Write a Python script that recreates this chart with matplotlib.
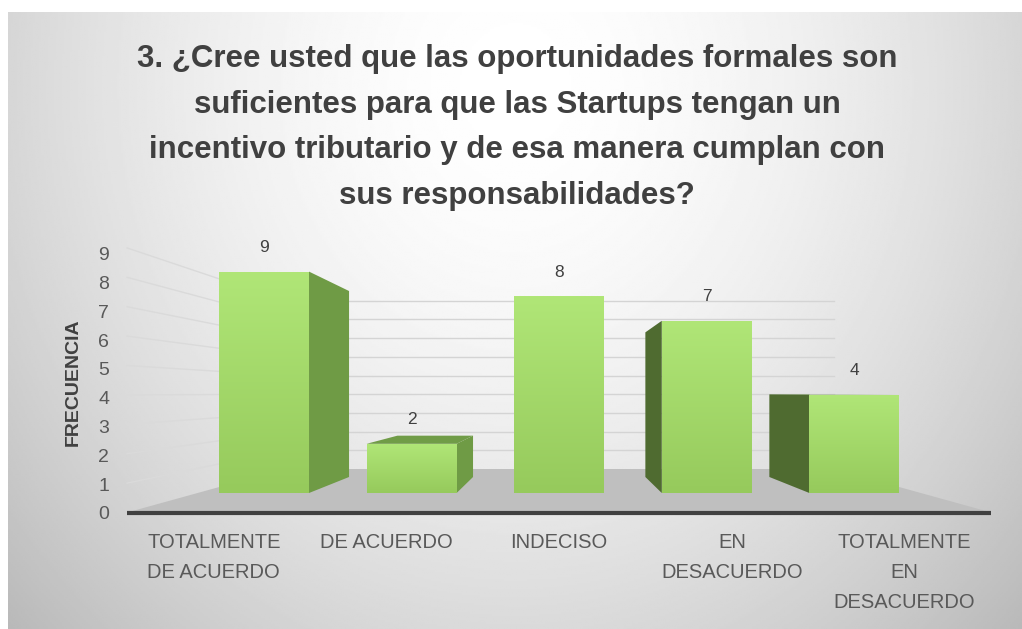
import numpy as np
import matplotlib
matplotlib.use('Agg')
import matplotlib.pyplot as plt
from matplotlib.patches import Polygon
from matplotlib.colors import LinearSegmentedColormap

plt.rcParams['font.family'] = ['Liberation Sans', 'DejaVu Sans']

### datos
categorias = ['TOTALMENTE\nDE ACUERDO', 'DE ACUERDO', 'INDECISO',
              'EN\nDESACUERDO', 'TOTALMENTE\nEN\nDESACUERDO']
frecuencia = [9, 2, 8, 7, 4]
ticks_y = list(range(0, 10))
titulo = ('3. ¿Cree usted que las oportunidades formales son\n'
          'suficientes para que las Startups tengan un\n'
          'incentivo tributario y de esa manera cumplan con\n'
          'sus responsabilidades?')

W, H = 1022, 629
fig = plt.figure(figsize=(W / 100, H / 100), dpi=100)
fig.patch.set_facecolor('white')

# fondo con degradado radial
bg = fig.add_axes([8 / W, 0, 1 - 8 / W, 1 - 12 / H])
yy, xx = np.mgrid[0:1:300j, 0:1:500j]
r = np.sqrt(((xx - 0.5) / 0.62) ** 2 + ((yy - 0.12) / 1.15) ** 2)
shade = 1 - 0.23 * np.clip(r, 0, 1.4) ** 1.7
bg.imshow(shade, cmap='gray', vmin=0, vmax=1, extent=[0, 1, 0, 1], aspect='auto')
bg.set_xlim(0, 1)
bg.set_ylim(0, 1)
bg.axis('off')

# ejes principales: x = categoria, y = frecuencia (plano frontal de las barras)
ax = fig.add_axes([0, 0, 1, 1])
ax.patch.set_alpha(0)
x0px, dxpx = 264, 147.6
y0px, dypx = 493, 24.6

n = len(frecuencia)
vx = (n - 1) / 2.0                 # punto de fuga
vy = (y0px - 393) / dypx
s_frente, s_barra, s_pared = 1.195, 0.84, 0.76
semiancho = 2.45
ancho = 0.61


def proj(x, y, s):
    return vx + s * (x - vx), vy + s * (y - vy)


def cara(pts, c1, c2, z):
    poly = Polygon(pts, closed=True, facecolor='none', edgecolor='none', zorder=z)
    ax.add_patch(poly)
    xs = [p[0] for p in pts]
    ys = [p[1] for p in pts]
    cmap = LinearSegmentedColormap.from_list('g', [c1, c2])
    grad = np.linspace(0, 1, 100).reshape(-1, 1)
    im = ax.imshow(grad, cmap=cmap, extent=[min(xs), max(xs), min(ys), max(ys)],
                   origin='lower', aspect='auto', zorder=z)
    im.set_clip_path(poly)


xl, xr = vx - semiancho, vx + semiancho

# piso
piso = [proj(xl, 0, s_frente), proj(xr, 0, s_frente),
        proj(xr, 0, s_pared), proj(xl, 0, s_pared)]
ax.add_patch(Polygon(piso, closed=True, facecolor='#bfbfbf', edgecolor='none', zorder=1))

# lineas de cuadricula (pared del fondo y pared izquierda)
for v in ticks_y[1:]:
    a = proj(xl, v, s_pared)
    b = proj(xr, v, s_pared)
    ax.plot([a[0], b[0]], [a[1], b[1]], color='#d4d4d4', lw=1, zorder=0.5)
    c = proj(xl, v, s_frente)
    ax.plot([c[0], a[0]], [c[1], a[1]], color='#dadada', lw=1, zorder=0.5)

# barras
for i, v in enumerate(frecuencia):
    x0, x1 = i - ancho / 2, i + ancho / 2
    if x1 < vx:
        lado = [proj(x1, 0, 1), proj(x1, v, 1), proj(x1, v, s_barra), proj(x1, 0, s_barra)]
        ax.add_patch(Polygon(lado, closed=True, facecolor='#6f9b45', edgecolor='none', zorder=3))
    if x0 > vx:
        lado = [proj(x0, 0, 1), proj(x0, v, 1), proj(x0, v, s_barra), proj(x0, 0, s_barra)]
        ax.add_patch(Polygon(lado, closed=True, facecolor='#4f6b30', edgecolor='none', zorder=3))
    if v < vy:
        tapa = [proj(x0, v, 1), proj(x1, v, 1), proj(x1, v, s_barra), proj(x0, v, s_barra)]
        ax.add_patch(Polygon(tapa, closed=True, facecolor='#709c47', edgecolor='none', zorder=3))
    frente = [(x0, 0), (x1, 0), (x1, v), (x0, v)]
    cara(frente, '#96ca5c', '#b0e677', 4)
    ax.annotate(str(v), (i, v), xytext=(0, 17.3), textcoords='offset points',
                ha='center', va='center', fontsize=12.5, color='#404040', zorder=5)

# eje horizontal
a = proj(xl, 0, s_frente)
b = proj(xr, 0, s_frente)
ax.plot([a[0], b[0]], [a[1], b[1]], color='#404040', lw=3, solid_capstyle='butt', zorder=2)

# etiquetas eje y
for v in ticks_y:
    p = proj(xl, v, 1.17)
    ax.annotate(str(v), (a[0], p[1]), xytext=(-13, -3.5), textcoords='offset points',
                ha='right', va='center', fontsize=14, color='#595959')

# etiquetas de categorias
for i, c in enumerate(categorias):
    p = proj(i, 0, 1.17)
    ax.annotate(c, p, xytext=(0, -16.5), textcoords='offset points', ha='center', va='top',
                fontsize=14.5, color='#595959', linespacing=1.72, multialignment='center')

ax.set_xlim((0 - x0px) / dxpx, (W - x0px) / dxpx)
ax.set_ylim((y0px - H) / dypx, y0px / dypx)
ax.axis('off')

fig.text(73 / W, 1 - 382 / H, 'FRECUENCIA', rotation=90, ha='center', va='center',
         fontsize=14, fontweight='bold', color='#404040')
fig.text(517 / W, 1 - 127.5 / H, titulo, ha='center', va='center', fontsize=22.5,
         fontweight='bold', color='#404040', linespacing=1.68)

fig.savefig('out.png', dpi=100)
